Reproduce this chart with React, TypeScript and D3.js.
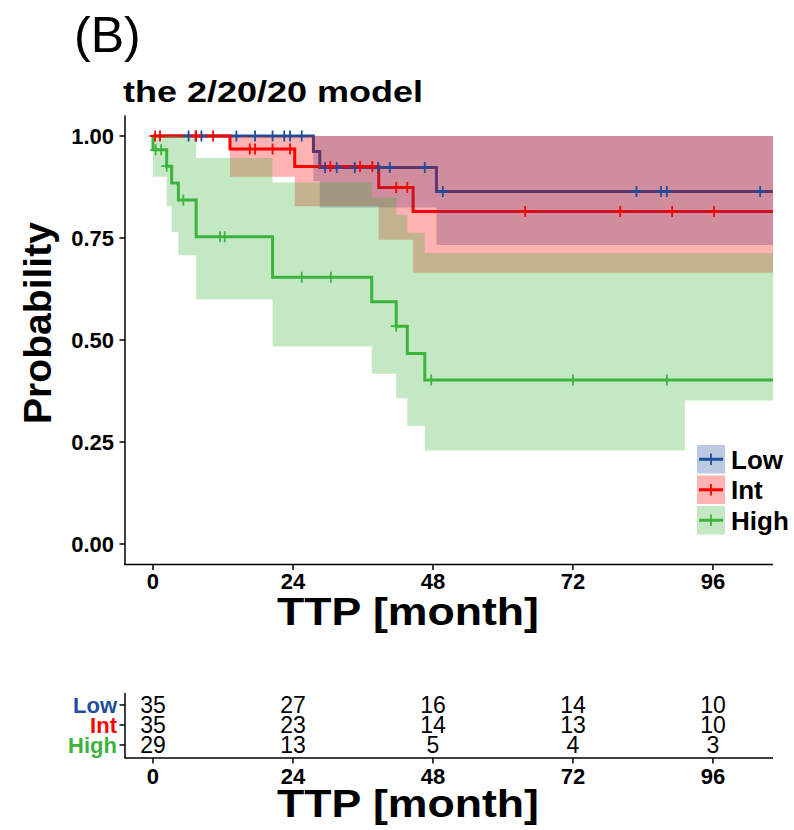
import React, { useEffect, useRef } from "react";
import * as d3 from "d3";

// Kaplan-Meier estimates: [month, probability]
const lowSurv = [[0, 1], [27.5, 0.962], [28.6, 0.923], [48.6, 0.864]];
const intSurv = [[0, 1], [13.2, 0.968], [24.3, 0.925], [38.7, 0.874], [44.6, 0.815]];
const highSurv = [[0, 1], [0, 0.966], [2.35, 0.926], [3.2, 0.885], [4.35, 0.843], [7.4, 0.753],
  [20.5, 0.654], [37.5, 0.594], [41.7, 0.534], [43.6, 0.467], [46.6, 0.402]];

// confidence limits
const lowUpper = [[0, 1]];
const lowLower = [[0, 1], [27.5, 0.89], [28.6, 0.825], [48.6, 0.733]];
const intUpper = [[0, 1]];
const intLower = [[0, 1], [13.2, 0.9], [24.3, 0.828], [38.7, 0.746], [44.6, 0.665]];
const highUpper = [[0, 1], [7.4, 0.946], [20.5, 0.886], [37.5, 0.849], [41.7, 0.807], [43.6, 0.763], [46.6, 0.713]];
const highLower = [[0, 0.9], [2.35, 0.828], [3.2, 0.765], [4.35, 0.708], [7.4, 0.6], [20.5, 0.484],
  [37.5, 0.417], [41.7, 0.357], [43.6, 0.29], [46.6, 0.229], [91.2, 0.352]];

// censoring times
const lowCensor = [6.1, 7.3, 8.3, 14.3, 17.5, 20.5, 22.5, 23.5, 25.5, 29.5, 31.5, 34.6, 38.6, 40.6, 46.6, 49.7, 82.9, 87.1, 88.1, 104.1];
const intCensor = [0.35, 1.2, 7.4, 10.3, 16.6, 17.5, 20.5, 23.5, 30.4, 35.5, 37.6, 41.7, 43.6, 63.8, 80.1, 89.0, 96.2];
const highCensor = [0.45, 1.4, 2.35, 5.2, 11.5, 12.3, 25.5, 30.5, 41.7, 47.7, 72.0, 88.1];

// number at risk
const riskTimes = [0, 24, 48, 72, 96];
const riskLow = [35, 27, 16, 14, 10];
const riskInt = [35, 23, 14, 13, 10];
const riskHigh = [29, 13, 5, 4, 3];

const xTicks = [0, 24, 48, 72, 96];
const yTicks = [0, 0.25, 0.5, 0.75, 1];
const groupNames = ["Low", "Int", "High"];
const groupColors = ["#1F4E9A", "#FF0000", "#3DB33D"];

const FONT = "'Liberation Sans', Arial, Helvetica, sans-serif";
const X_MAX = 106.3;

function stepAt(steps, t) {
  let v = steps[0][1];
  for (const s of steps) if (s[0] <= t) v = s[1];
  return v;
}

export default function App() {
  const ref = useRef(null);

  useEffect(() => {
    const svg = d3.select(ref.current);
    svg.selectAll("*").remove();

    const x = d3.scaleLinear().domain([-4.8, X_MAX]).range([125, 773]);
    const y = d3.scaleLinear().domain([-0.05, 1.05]).range([564.4, 115.6]);

    const groups = [
      { surv: lowSurv, upper: lowUpper, lower: lowLower, censor: lowCensor, risk: riskLow },
      { surv: intSurv, upper: intUpper, lower: intLower, censor: intCensor, risk: riskInt },
      { surv: highSurv, upper: highUpper, lower: highLower, censor: highCensor, risk: riskHigh },
    ];

    const plot = svg.append("g");

    // step lines (drawn first, ribbons go over them like ggsurvplot)
    const line = d3.line().x((d) => x(d[0])).y((d) => y(d[1])).curve(d3.curveStepAfter);
    groups.forEach((g, i) => {
      const pts = g.surv.concat([[X_MAX, g.surv[g.surv.length - 1][1]]]);
      plot.append("path").attr("d", line(pts)).attr("fill", "none")
        .attr("stroke", groupColors[i]).attr("stroke-width", 3);
    });

    // confidence ribbons
    const area = d3.area().x((d) => x(d[0])).y0((d) => y(d[1])).y1((d) => y(d[2])).curve(d3.curveStepAfter);
    groups.forEach((g, i) => {
      const times = Array.from(new Set(g.upper.map((d) => d[0]).concat(g.lower.map((d) => d[0])))).sort((a, b) => a - b);
      times.push(X_MAX);
      const pts = times.map((t) => [t, stepAt(g.lower, t), stepAt(g.upper, t)]);
      plot.append("path").attr("d", area(pts)).attr("fill", groupColors[i]).attr("fill-opacity", 0.3);
    });

    // censor marks
    groups.forEach((g, i) => {
      g.censor.forEach((t) => {
        const cx = x(t), cy = y(stepAt(g.surv, t));
        plot.append("path")
          .attr("d", `M${cx - 5.5},${cy}H${cx + 5.5}M${cx},${cy - 5.5}V${cy + 5.5}`)
          .attr("stroke", groupColors[i]).attr("stroke-width", 1.8);
      });
    });

    // axes
    const ax = svg.append("g").attr("stroke", "#000").attr("stroke-width", 1.5);
    ax.append("line").attr("x1", 125).attr("x2", 125).attr("y1", 115.6).attr("y2", 564.4);
    ax.append("line").attr("x1", 124.3).attr("x2", 773).attr("y1", 564.4).attr("y2", 564.4);
    yTicks.forEach((v) => {
      ax.append("line").attr("x1", 119.5).attr("x2", 125).attr("y1", y(v)).attr("y2", y(v));
      svg.append("text").attr("x", 114).attr("y", y(v)).attr("dy", "0.36em")
        .attr("text-anchor", "end").attr("font-family", FONT).attr("font-weight", "bold")
        .attr("font-size", 22).text(d3.format(".2f")(v));
    });
    xTicks.forEach((v) => {
      ax.append("line").attr("x1", x(v)).attr("x2", x(v)).attr("y1", 564.4).attr("y2", 570);
      svg.append("text").attr("x", x(v)).attr("y", 581).attr("dy", "0.36em")
        .attr("text-anchor", "middle").attr("font-family", FONT).attr("font-weight", "bold")
        .attr("font-size", 22).text(v);
    });

    svg.append("text").attr("x", 408).attr("y", 625).attr("text-anchor", "middle")
      .attr("font-family", FONT).attr("font-weight", "bold").attr("font-size", 39)
      .attr("textLength", 262).attr("lengthAdjust", "spacingAndGlyphs").text("TTP [month]");
    svg.append("text").attr("transform", "translate(51,323) rotate(-90)").attr("text-anchor", "middle")
      .attr("font-family", FONT).attr("font-weight", "bold").attr("font-size", 39)
      .attr("textLength", 202).attr("lengthAdjust", "spacingAndGlyphs").text("Probability");
    svg.append("text").attr("x", 123).attr("y", 102)
      .attr("font-family", FONT).attr("font-weight", "bold").attr("font-size", 30)
      .attr("textLength", 300).attr("lengthAdjust", "spacingAndGlyphs").text("the 2/20/20 model");
    svg.append("text").attr("x", 74).attr("y", 52)
      .attr("font-family", FONT).attr("font-size", 50).text("(B)");

    // legend
    groupNames.forEach((name, i) => {
      const ky = 445 + i * 30.5;
      const lg = svg.append("g");
      lg.append("rect").attr("x", 697).attr("y", ky).attr("width", 28).attr("height", 28.5)
        .attr("fill", groupColors[i]).attr("fill-opacity", 0.3);
      lg.append("line").attr("x1", 699).attr("x2", 723).attr("y1", ky + 14.25).attr("y2", ky + 14.25)
        .attr("stroke", groupColors[i]).attr("stroke-width", 3);
      lg.append("line").attr("x1", 711).attr("x2", 711).attr("y1", ky + 8.5).attr("y2", ky + 20)
        .attr("stroke", groupColors[i]).attr("stroke-width", 1.8);
      lg.append("text").attr("x", 731).attr("y", ky + 14.25).attr("dy", "0.36em")
        .attr("font-family", FONT).attr("font-weight", "bold").attr("font-size", 26).text(name);
    });

    // risk table
    const ry = d3.scalePoint().domain(groupNames).range([705, 745]);
    const rt = svg.append("g");
    rt.append("line").attr("x1", 125).attr("x2", 125).attr("y1", 693).attr("y2", 758).attr("stroke", "#000").attr("stroke-width", 1.5);
    rt.append("line").attr("x1", 124.3).attr("x2", 773).attr("y1", 758).attr("y2", 758).attr("stroke", "#000").attr("stroke-width", 1.5);
    groupNames.forEach((name, i) => {
      rt.append("line").attr("x1", 119.5).attr("x2", 125).attr("y1", ry(name)).attr("y2", ry(name))
        .attr("stroke", "#000").attr("stroke-width", 1.5);
      rt.append("text").attr("x", 117).attr("y", ry(name)).attr("dy", "0.36em").attr("text-anchor", "end")
        .attr("font-family", FONT).attr("font-weight", "bold").attr("font-size", 22)
        .attr("fill", groupColors[i]).text(name);
      groups[i].risk.forEach((n, j) => {
        rt.append("text").attr("x", x(riskTimes[j])).attr("y", ry(name)).attr("dy", "0.36em")
          .attr("text-anchor", "middle").attr("font-family", FONT).attr("font-size", 23).text(n);
      });
    });
    xTicks.forEach((v) => {
      rt.append("line").attr("x1", x(v)).attr("x2", x(v)).attr("y1", 758).attr("y2", 763.5)
        .attr("stroke", "#000").attr("stroke-width", 1.5);
      rt.append("text").attr("x", x(v)).attr("y", 776).attr("dy", "0.36em")
        .attr("text-anchor", "middle").attr("font-family", FONT).attr("font-weight", "bold")
        .attr("font-size", 22).text(v);
    });
    rt.append("text").attr("x", 408).attr("y", 817).attr("text-anchor", "middle")
      .attr("font-family", FONT).attr("font-weight", "bold").attr("font-size", 39)
      .attr("textLength", 262).attr("lengthAdjust", "spacingAndGlyphs").text("TTP [month]");
  }, []);

  return (
    <svg ref={ref} width={794} height={830}
      style={{ position: "absolute", left: 0, top: 0, background: "#fff" }} />
  );
}
